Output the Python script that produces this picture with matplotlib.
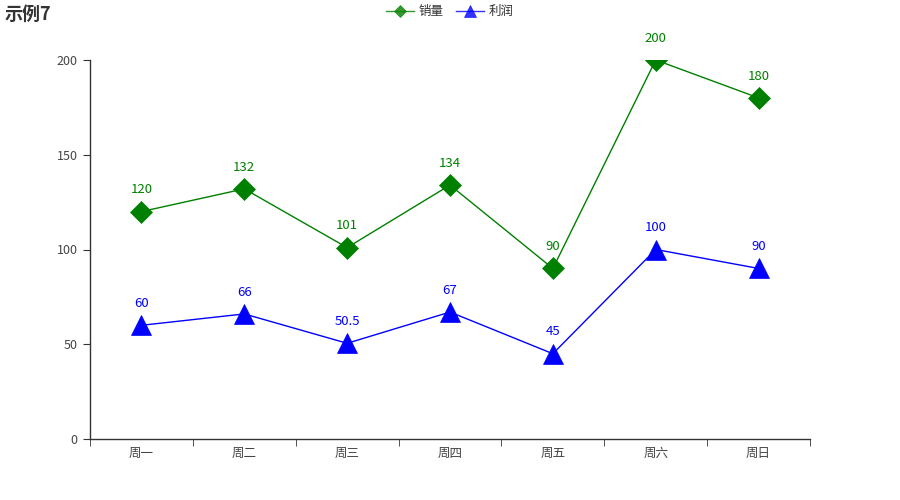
import matplotlib
matplotlib.use("Agg")
import matplotlib.pyplot as plt

plt.rcParams['font.family'] = ['Noto Sans CJK SC', 'DejaVu Sans']

days = ['周一', '周二', '周三', '周四', '周五', '周六', '周日']
sales = [120, 132, 101, 134, 90, 200, 180]
profit = [60, 66, 50.5, 67, 45, 100, 90]
y_ticks = [0, 50, 100, 150, 200]

fig = plt.figure(figsize=(9, 5), dpi=100)
ax = fig.add_axes([0.1, 0.122, 0.8, 0.758])

x = list(range(len(days)))
l1, = ax.plot(x, sales, color='green', lw=1, marker='D', markersize=11.5, markeredgewidth=0.5, label='销量', zorder=3)
l2, = ax.plot(x, profit, color='blue', lw=1, marker='^', markersize=15, markeredgewidth=0.5, label='利润', zorder=3)

def fmt(v):
    return str(int(v)) if float(v).is_integer() else str(v)

for xi, v in zip(x, sales):
    ax.annotate(fmt(v), (xi, v), xytext=(0, 11), textcoords='offset points',
                ha='center', va='bottom', color='green', fontsize=9.5)
for xi, v in zip(x, profit):
    ax.annotate(fmt(v), (xi, v), xytext=(0, 11), textcoords='offset points',
                ha='center', va='bottom', color='blue', fontsize=9.5)

ax.set_xlim(-0.5, len(days) - 0.5)
ax.set_ylim(0, 200)
ax.set_yticks(y_ticks)
ax.set_xticks(x)
ax.set_xticklabels(days)
ax.set_xticks([i - 0.5 for i in range(len(days) + 1)], minor=True)
ax.tick_params(axis='x', which='major', length=0, pad=6, labelsize=9, labelcolor='#444444')
ax.tick_params(axis='x', which='minor', length=5, color='#333333')
ax.tick_params(axis='y', length=5, color='#333333', labelsize=9, labelcolor='#444444', pad=4)

for s in ['top', 'right']:
    ax.spines[s].set_visible(False)
for s in ['left', 'bottom']:
    ax.spines[s].set_color('#333333')
    ax.spines[s].set_linewidth(1)

fig.text(0.005, 0.972, '示例7', fontsize=13, fontweight='bold', color='#333333', ha='left', va='center')

leg = fig.legend(handles=[l1, l2], loc='upper center', bbox_to_anchor=(0.5, 1.012), ncol=2,
                 frameon=False, fontsize=9, handlelength=2.2, columnspacing=1.0,
                 handletextpad=0.4, markerscale=0.55)
for h in leg.legend_handles:
    h.set_alpha(0.8)
for t in leg.get_texts():
    t.set_color('#333333')

fig.savefig('out.png', dpi=100)
